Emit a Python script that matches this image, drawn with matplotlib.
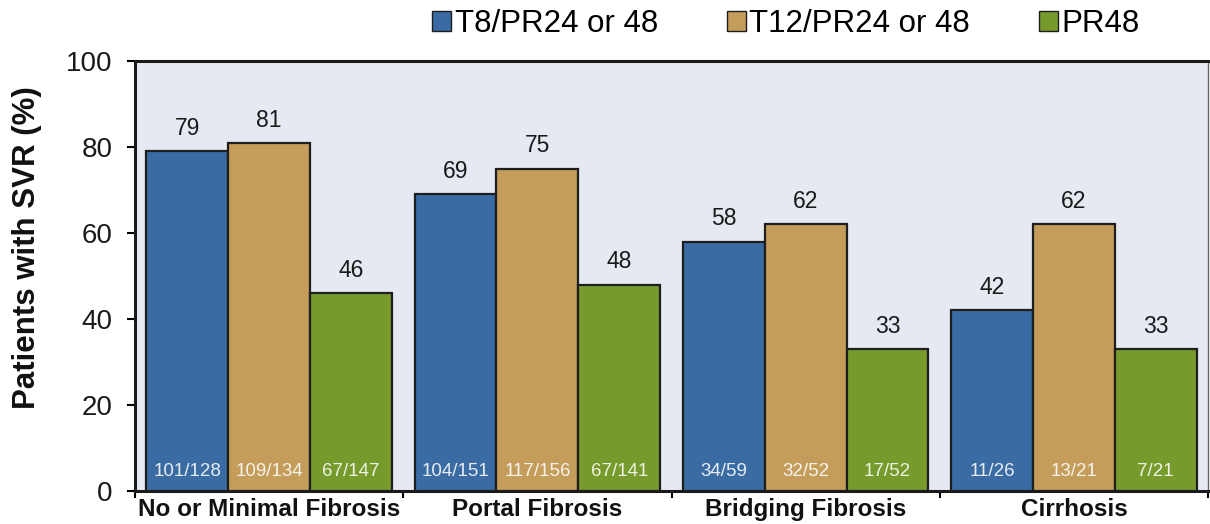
import matplotlib.pyplot as plt
import numpy as np

# Dados
categorias = ['No or Minimal Fibrosis', 'Portal Fibrosis', 'Bridging Fibrosis', 'Cirrhosis']
series = ['T8/PR24 or 48', 'T12/PR24 or 48', 'PR48']
t8 = [79, 69, 58, 42]
t12 = [81, 75, 62, 62]
pr48 = [46, 48, 33, 33]
n_t8 = ['101/128', '104/151', '34/59', '11/26']
n_t12 = ['109/134', '117/156', '32/52', '13/21']
n_pr48 = ['67/147', '67/141', '17/52', '7/21']

cores = ['#3A6BA3', '#C49D5A', '#779A2C']

plt.rcParams['font.family'] = ['Liberation Sans', 'DejaVu Sans']

fig = plt.figure(figsize=(12.1, 5.24), dpi=100)
# eixo: x 135..1208, y 61..491 (pixels)
ax = fig.add_axes([135 / 1210, 1 - 491 / 524, 1073 / 1210, 430 / 524])
ax.set_facecolor('#E4E9F2')

x = np.arange(len(categorias))
largura = 0.305
valores = [t8, t12, pr48]
rotulos = [n_t8, n_t12, n_pr48]

for i in range(3):
    pos = x + (i - 1) * largura
    barras = ax.bar(pos, valores[i], largura, color=cores[i], edgecolor='#1e1e1e',
                    linewidth=1.6, label=series[i], zorder=3)
    for b, v, n in zip(barras, valores[i], rotulos[i]):
        ax.text(b.get_x() + b.get_width() / 2, v + 2.6, str(v), ha='center', va='bottom',
                fontsize=16.5, color='#1a1a1a', zorder=4)
        ax.text(b.get_x() + b.get_width() / 2, 2.5, n, ha='center', va='bottom',
                fontsize=13.5, color='white', alpha=0.88, zorder=4)

ax.set_xlim(-0.5, len(categorias) - 0.5)
ax.set_ylim(0, 100)
ax.set_yticks([0, 20, 40, 60, 80, 100])
ax.tick_params(axis='y', labelsize=20, length=6, width=1.5, direction='out', pad=10,
               labelcolor='#1a1a1a')

# marcas do eixo x entre os grupos
ax.set_xticks(np.arange(-0.5, len(categorias), 1))
ax.set_xticklabels([])
ax.tick_params(axis='x', length=5, width=1.5, direction='out')
for xi, c in zip(x, categorias):
    ax.text(xi, -1.6, c, ha='center', va='top', fontsize=17.5, fontweight='bold',
            color='#111111')

ax.set_ylabel('Patients with SVR (%)', fontsize=22.5, fontweight='bold', color='#111111')
ax.yaxis.set_label_coords(-0.087, 0.565)

for lado in ['left', 'bottom', 'top']:
    ax.spines[lado].set_linewidth(2.2)
    ax.spines[lado].set_color('#1a1a1a')
ax.spines['right'].set_linewidth(1)
ax.spines['right'].set_color('#666666')

leg = fig.legend(loc='center', bbox_to_anchor=(786 / 1210, 1 - 24 / 524), ncol=3, frameon=False,
                 fontsize=22.5, handlelength=0.6, handleheight=0.6, handletextpad=0.12,
                 columnspacing=2.2, borderpad=0)
for h in leg.legend_handles:
    h.set_linewidth(1)

plt.savefig('out.png', dpi=100)
